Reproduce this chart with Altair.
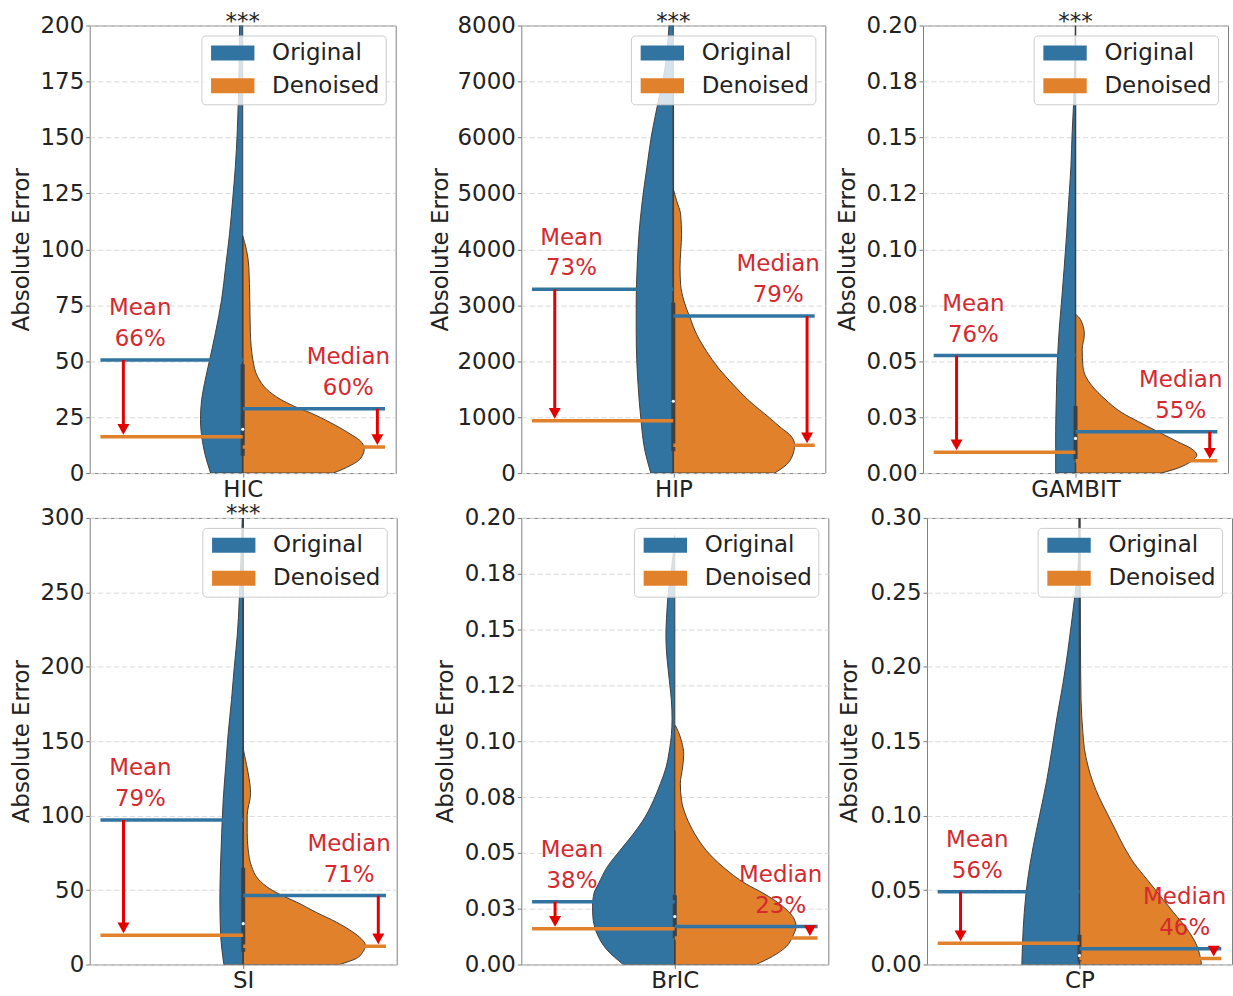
import json
import altair as alt
import pandas as pd

# ---------------- data ----------------
PANELS = ["HIC", "HIP", "GAMBIT", "SI", "BrIC", "CP"]
SERIES = ["Original", "Denoised"]
Y_MAX = [200, 8000, 0.2, 300, 0.2, 0.3]
Y_TICKS = [
    [0, 25, 50, 75, 100, 125, 150, 175, 200],
    [0, 1000, 2000, 3000, 4000, 5000, 6000, 7000, 8000],
    [0, 0.025, 0.05, 0.075, 0.1, 0.125, 0.15, 0.175, 0.2],
    [0, 50, 100, 150, 200, 250, 300],
    [0, 0.025, 0.05, 0.075, 0.1, 0.125, 0.15, 0.175, 0.2],
    [0, 0.05, 0.1, 0.15, 0.2, 0.25, 0.3],
]
Y_TICK_LABELS = [
    ["0", "25", "50", "75", "100", "125", "150", "175", "200"],
    ["0", "1000", "2000", "3000", "4000", "5000", "6000", "7000", "8000"],
    ["0.00", "0.03", "0.05", "0.08", "0.10", "0.12", "0.15", "0.18", "0.20"],
    ["0", "50", "100", "150", "200", "250", "300"],
    ["0.00", "0.03", "0.05", "0.08", "0.10", "0.12", "0.15", "0.18", "0.20"],
    ["0.00", "0.05", "0.10", "0.15", "0.20", "0.25", "0.30"],
]
SIGNIF = ["***", "***", "***", "***", "", ""]

MEAN_ORIG = [50.5, 3284, 0.0525, 97, 0.0281, 0.0488]
MEAN_DEN = [16.2, 937, 0.0093, 19.6, 0.016, 0.0143]
MEDIAN_ORIG = [28.8, 2806, 0.0185, 46.3, 0.017, 0.0105]
MEDIAN_DEN = [11.7, 496, 0.0055, 12.2, 0.0119, 0.004]
MEAN_PCT = ["66%", "73%", "76%", "79%", "38%", "56%"]
MEDIAN_PCT = ["60%", "79%", "55%", "71%", "23%", "46%"]

BOX_Q1 = [7.7, 388, 0.006, 8.5, 0.0119, 0.002]
BOX_Q3 = [48.6, 3045, 0.030, 65, 0.031, 0.02]
BOX_MED = [19.6, 1284, 0.0155, 27.4, 0.0215, 0.006]
WHISKER_HI = [105, 7000, 0.2, 300, 0.06, 0.3]

# violin half-widths (left half = Original, right half = Denoised)
HIC_ORIG_V = [0, 10.7, 24, 33, 40, 50, 62.7, 77.5, 92, 107, 122, 137, 152, 167, 181, 200, 230]
HIC_ORIG_W = [0.105, 0.127, 0.138, 0.134, 0.125, 0.109, 0.089, 0.069, 0.056, 0.043, 0.033, 0.024, 0.018, 0.014, 0.012, 0.010, 0.006]
HIC_DEN_V = [0, 3.3, 6.2, 10.7, 13.7, 18, 22.6, 27, 30, 33, 37.4, 43, 50.8, 62.7, 77.5, 92, 100, 106]
HIC_DEN_W = [0.296, 0.351, 0.383, 0.397, 0.389, 0.345, 0.286, 0.22, 0.166, 0.123, 0.079, 0.049, 0.033, 0.025, 0.023, 0.020, 0.012, 0.0]

HIP_ORIG_V = [0, 388, 985, 1582, 2478, 3075, 3672, 4269, 4866, 5463, 6060, 6657, 7254, 7851, 8000, 8500]
HIP_ORIG_W = [0.074, 0.093, 0.107, 0.116, 0.122, 0.122, 0.119, 0.113, 0.102, 0.087, 0.071, 0.049, 0.027, 0.016, 0.014, 0.008]
HIP_DEN_V = [0, 149, 328, 507, 687, 806, 985, 1284, 1582, 1881, 2179, 2478, 2776, 3075, 3373, 3672, 4269, 4627, 4866, 5075]
HIP_DEN_W = [0.333, 0.372, 0.393, 0.399, 0.383, 0.355, 0.317, 0.251, 0.197, 0.148, 0.109, 0.077, 0.055, 0.035, 0.024, 0.022, 0.027, 0.024, 0.011, 0.0]

GAMBIT_ORIG_V = [0, 0.011, 0.0185, 0.033, 0.048, 0.063, 0.078, 0.092, 0.107, 0.122, 0.137, 0.152, 0.166, 0.181, 0.19, 0.2]
GAMBIT_ORIG_W = [0.065, 0.065, 0.065, 0.063, 0.060, 0.054, 0.045, 0.037, 0.029, 0.022, 0.015, 0.011, 0.006, 0.003, 0.0015, 0.0]
GAMBIT_DEN_V = [0, 0.0022, 0.0052, 0.0081, 0.011, 0.014, 0.0185, 0.023, 0.027, 0.033, 0.039, 0.0436, 0.048, 0.0554, 0.062, 0.0687, 0.071]
GAMBIT_DEN_W = [0.281, 0.335, 0.379, 0.398, 0.379, 0.335, 0.27, 0.206, 0.152, 0.097, 0.054, 0.032, 0.024, 0.022, 0.029, 0.016, 0.0]

SI_ORIG_V = [0, 21.8, 44, 66, 88.6, 111, 133, 155, 178, 200, 222, 244, 255, 280, 300, 320]
SI_ORIG_W = [0.063, 0.074, 0.076, 0.074, 0.070, 0.065, 0.057, 0.049, 0.038, 0.029, 0.019, 0.013, 0.011, 0.006, 0.003, 0.001]
SI_DEN_V = [0, 4, 8.5, 13, 17.4, 21.8, 28.5, 35, 42, 46, 50.8, 57.4, 66, 77.5, 88.6, 100, 115, 128.7, 140, 145]
SI_DEN_W = [0.314, 0.368, 0.390, 0.398, 0.384, 0.357, 0.303, 0.238, 0.173, 0.130, 0.087, 0.049, 0.027, 0.016, 0.013, 0.013, 0.024, 0.016, 0.005, 0.0]

BRIC_ORIG_V = [0, 0.0067, 0.014, 0.0215, 0.026, 0.032, 0.036, 0.0437, 0.051, 0.0585, 0.066, 0.0733, 0.081, 0.088,
               0.0956, 0.103, 0.110, 0.118, 0.125, 0.1326, 0.140, 0.1474, 0.155, 0.162, 0.170, 0.177, 0.184, 0.192]
BRIC_ORIG_W = [0.168, 0.222, 0.254, 0.267, 0.268, 0.263, 0.249, 0.220, 0.179, 0.135, 0.097, 0.070, 0.047, 0.029,
               0.018, 0.011, 0.009, 0.011, 0.016, 0.022, 0.027, 0.029, 0.027, 0.024, 0.018, 0.011, 0.005, 0.001]
BRIC_DEN_V = [0, 0.0037, 0.008, 0.0126, 0.017, 0.0215, 0.026, 0.032, 0.036, 0.0437, 0.051, 0.0585, 0.066, 0.0733,
              0.081, 0.088, 0.094, 0.100, 0.1044, 0.107]
BRIC_DEN_W = [0.265, 0.319, 0.363, 0.384, 0.395, 0.384, 0.352, 0.287, 0.233, 0.157, 0.103, 0.065, 0.038, 0.022,
              0.018, 0.025, 0.029, 0.022, 0.011, 0.002]

CP_ORIG_V = [0, 0.013, 0.035, 0.057, 0.079, 0.101, 0.123, 0.145, 0.167, 0.189, 0.211, 0.233, 0.255, 0.266, 0.277, 0.29, 0.31]
CP_ORIG_W = [0.189, 0.187, 0.181, 0.170, 0.152, 0.130, 0.108, 0.090, 0.073, 0.054, 0.038, 0.024, 0.011, 0.005, 0.003, 0.002, 0.001]
CP_DEN_V = [0, 0.013, 0.024, 0.035, 0.046, 0.057, 0.068, 0.079, 0.090, 0.101, 0.112, 0.123, 0.134, 0.145, 0.156, 0.178, 0.222, 0.30, 0.32]
CP_DEN_W = [0.400, 0.384, 0.352, 0.308, 0.265, 0.222, 0.179, 0.146, 0.119, 0.092, 0.065, 0.043, 0.027, 0.016, 0.011, 0.005, 0.003, 0.002, 0.001]

VIOLINS = {
    "HIC": (HIC_ORIG_V, HIC_ORIG_W, HIC_DEN_V, HIC_DEN_W),
    "HIP": (HIP_ORIG_V, HIP_ORIG_W, HIP_DEN_V, HIP_DEN_W),
    "GAMBIT": (GAMBIT_ORIG_V, GAMBIT_ORIG_W, GAMBIT_DEN_V, GAMBIT_DEN_W),
    "SI": (SI_ORIG_V, SI_ORIG_W, SI_DEN_V, SI_DEN_W),
    "BrIC": (BRIC_ORIG_V, BRIC_ORIG_W, BRIC_DEN_V, BRIC_DEN_W),
    "CP": (CP_ORIG_V, CP_ORIG_W, CP_DEN_V, CP_DEN_W),
}

# ---------------- styling ----------------
BLUE = "#3274a1"
ORANGE = "#e1812c"
RED_TEXT = "#d42a2f"
RED_ARROW = "#e30000"
EDGE = "#3f3f3f"
FONT = "DejaVu Sans"
FS = 23
ARROW_PATH = "M-1,-1.8L1,-1.8L0,0Z"
LEGEND_RECT = "M-2.9,-1H2.9V1H-2.9Z"


def panel(i, width, height, extent, tpad):
    name = PANELS[i]
    ymax = Y_MAX[i]
    step = Y_TICKS[i][1] - Y_TICKS[i][0]
    xs = alt.Scale(domain=[-0.5, 0.5], nice=False, zero=False)
    ys = alt.Scale(domain=[0, ymax], nice=False, zero=False)
    yaxis = alt.Axis(
        title="Absolute Error", values=Y_TICKS[i],
        labelExpr=f"{json.dumps(Y_TICK_LABELS[i])}[round(datum.value / {step})]",
        grid=True, gridColor="#d9d9d9", gridDash=[5, 3], gridWidth=1,
        domain=False, ticks=True, tickSize=4, tickColor="#777777",
        labelPadding=2, labelFontSize=FS, titleFontSize=FS, titleFontWeight="normal",
        labelColor="#222222", titleColor="#222222", labelFont=FONT, titleFont=FONT,
        minExtent=extent, maxExtent=extent, titlePadding=tpad,
    )
    xaxis = alt.Axis(
        title=None, values=[0], labelExpr=f"'{name}'", grid=False, domain=False,
        ticks=True, tickSize=4, tickColor="#777777", labelPadding=1,
        labelFontSize=FS, labelColor="#222222", labelFont=FONT,
    )

    def X(f):
        return alt.X(f, type="quantitative", scale=xs, axis=xaxis)

    def Y(f):
        return alt.Y(f, type="quantitative", scale=ys, axis=yaxis)

    ov, ow, dv, dw = VIOLINS[name]
    rows = []
    for v, w in zip(ov, ow):
        rows.append({"v": v, "lo": -w, "hi": 0.0, "series": "Original"})
    for v, w in zip(dv, dw):
        rows.append({"v": v, "lo": 0.0, "hi": w, "series": "Denoised"})
    vdf = pd.DataFrame(rows)

    legend = alt.Legend(
        title=None, orient="top-right", offset=10, padding=6,
        fillColor="rgba(255,255,255,0.8)", strokeColor="#cccccc", cornerRadius=4,
        labelFontSize=FS, labelColor="#222222", labelFont=FONT, labelLimit=400,
        symbolType=LEGEND_RECT, symbolSize=225, symbolOffset=14, labelOffset=28,
        rowPadding=9, symbolStrokeWidth=0, symbolOpacity=1,
    )
    violin = alt.Chart(vdf).mark_area(
        orient="horizontal", interpolate="monotone", stroke=EDGE, strokeWidth=1,
        clip=True, opacity=1,
    ).encode(
        y=Y("v"), x=X("lo"), x2="hi",
        color=alt.Color("series:N", scale=alt.Scale(domain=SERIES, range=[BLUE, ORANGE]), legend=legend),
    )

    bdf = pd.DataFrame([{"x": 0.0, "lo": 0.0, "hi": WHISKER_HI[i], "q1": BOX_Q1[i], "q3": BOX_Q3[i], "med": BOX_MED[i]}])
    whisker = alt.Chart(bdf).mark_rule(color=EDGE, strokeWidth=1.5, clip=True).encode(
        x=X("x"), y=Y("lo"), y2="hi")
    box = alt.Chart(bdf).mark_rule(color=EDGE, strokeWidth=4, clip=True).encode(
        x=X("x"), y=Y("q1"), y2="q3")
    dot = alt.Chart(bdf).mark_circle(color="white", size=10, opacity=1).encode(
        x=X("x"), y=Y("med"))

    ldf = pd.DataFrame([
        {"x1": -0.465, "x2": 0.0, "y": MEAN_ORIG[i], "c": BLUE},
        {"x1": -0.465, "x2": 0.0, "y": MEAN_DEN[i], "c": ORANGE},
        {"x1": 0.0, "x2": 0.465, "y": MEDIAN_ORIG[i], "c": BLUE},
        {"x1": 0.0, "x2": 0.465, "y": MEDIAN_DEN[i], "c": ORANGE},
    ])
    lines = alt.Chart(ldf).mark_rule(strokeWidth=3.5).encode(
        x=X("x1"), x2="x2", y=Y("y"), color=alt.Color("c:N", scale=None))

    adf = pd.DataFrame([
        {"x": -0.39, "y1": MEAN_ORIG[i], "y2": MEAN_DEN[i]},
        {"x": 0.44, "y1": MEDIAN_ORIG[i], "y2": MEDIAN_DEN[i]},
    ])
    shaft = alt.Chart(adf).mark_rule(color=RED_ARROW, strokeWidth=3, y2Offset=-10).encode(
        x=X("x"), y=Y("y1"), y2="y2")
    head = alt.Chart(adf).mark_point(
        shape=ARROW_PATH, size=144, filled=True, color=RED_ARROW, opacity=1,
        strokeWidth=0, yOffset=-2,
    ).encode(x=X("x"), y=Y("y2"))

    tdf = pd.DataFrame([
        {"x": -0.335, "y": MEAN_ORIG[i], "lab": "Mean", "pct": MEAN_PCT[i]},
        {"x": 0.345, "y": MEDIAN_ORIG[i], "lab": "Median", "pct": MEDIAN_PCT[i]},
    ])
    lab = alt.Chart(tdf).mark_text(
        color=RED_TEXT, fontSize=FS, font=FONT, baseline="middle", align="center", dy=-52,
    ).encode(x=X("x"), y=Y("y"), text="lab:N")
    pct = alt.Chart(tdf).mark_text(
        color=RED_TEXT, fontSize=FS, font=FONT, baseline="middle", align="center", dy=-21,
    ).encode(x=X("x"), y=Y("y"), text="pct:N")

    layers = [violin, whisker, box, dot, lines, shaft, head, lab, pct]
    if SIGNIF[i]:
        sdf = pd.DataFrame([{"x": 0.0, "y": ymax, "t": SIGNIF[i]}])
        stars = alt.Chart(sdf).mark_text(
            color="#222222", fontSize=FS, font=FONT, baseline="alphabetic", align="center", dy=3,
        ).encode(x=X("x"), y=Y("y"), text="t:N")
        layers.append(stars)

    return alt.layer(*layers).properties(width=width, height=height)


def hc(a, b, s):
    return alt.hconcat(a, b, spacing=s).resolve_scale(
        color="independent", x="independent", y="independent"
    ).resolve_legend(color="independent")


p1 = panel(0, 307, 449, 51, 5)
p2 = panel(1, 305, 449, 65, 4)
p3 = panel(2, 306, 449, 57, 7)
p4 = panel(3, 308, 448, 50, 6)
p5 = panel(4, 308, 448, 58, 6)
p6 = panel(5, 306, 448, 58, 8)

row1 = hc(hc(p1, p2, 32), p3, 9)
row2 = hc(hc(p4, p5, 36), p6, 8)

chart = alt.vconcat(row1, row2, spacing=0).resolve_scale(
    color="independent", x="independent", y="independent"
).resolve_legend(color="independent").properties(
    padding={"left": 10, "top": 8, "right": 0, "bottom": 0},
    background="white",
).configure_view(
    stroke="#808080", strokeWidth=1
).configure_text(font=FONT)

chart.save("out.html", embed_options={"renderer": "svg", "actions": False})
